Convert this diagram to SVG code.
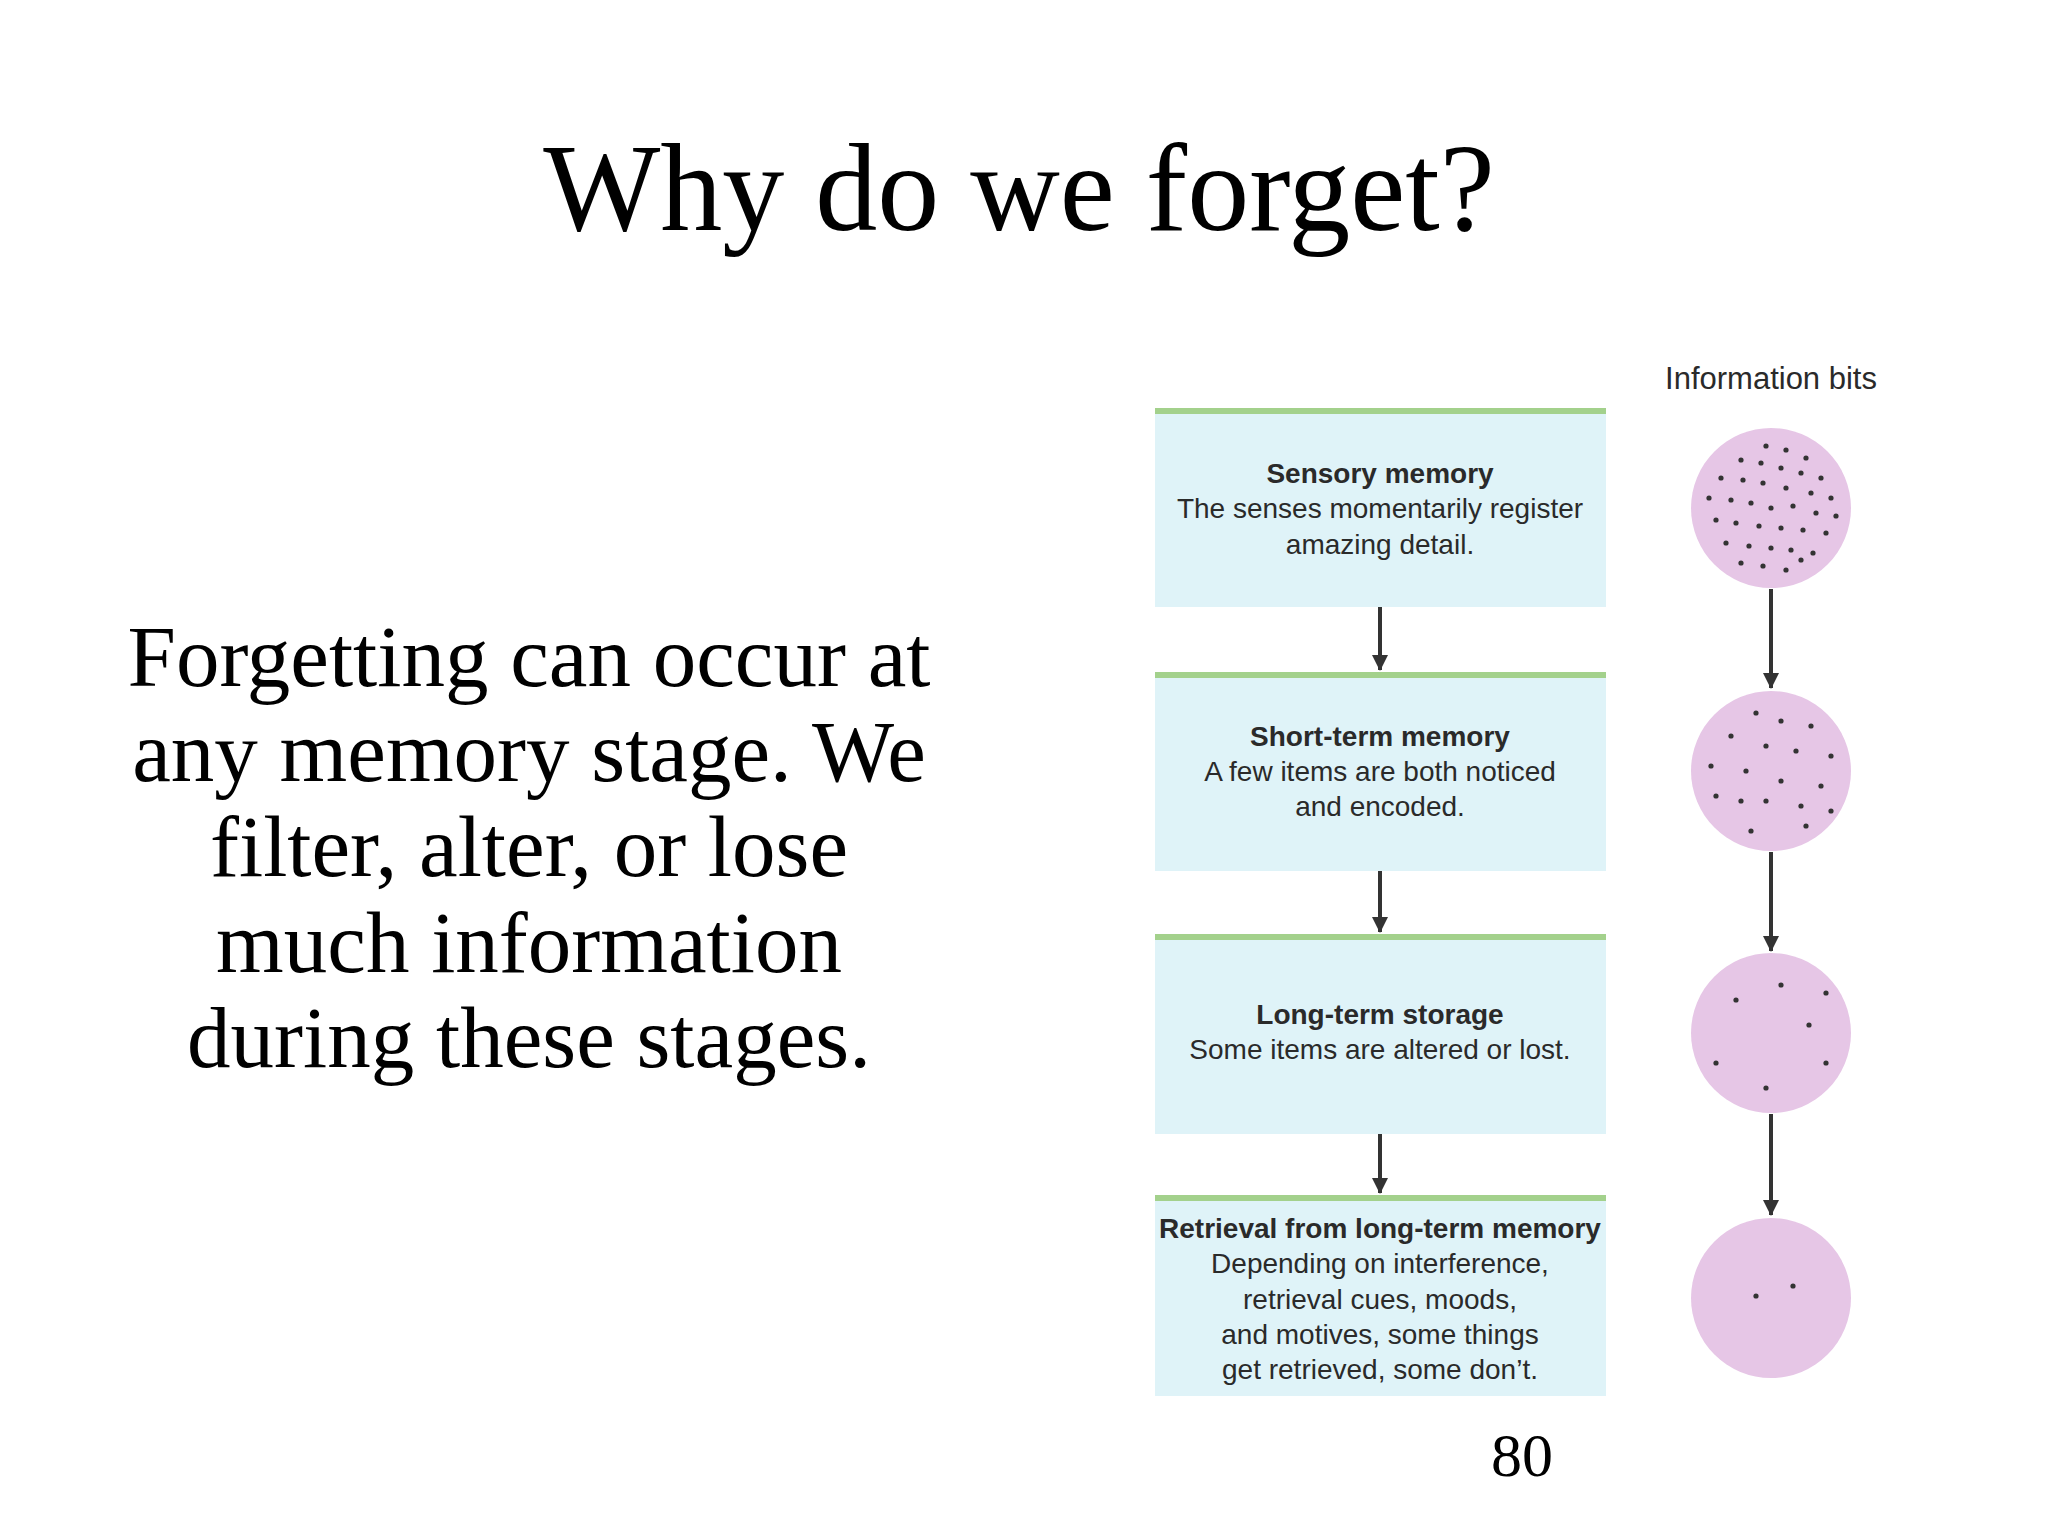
<svg xmlns="http://www.w3.org/2000/svg" width="2048" height="1536" viewBox="0 0 2048 1536">
<defs>
<style>
.ser{font-family:"Liberation Serif",serif;fill:#000}
.bx{fill:#dff3f8}
.gl{stroke:#a3d18c;stroke-width:6}
.t{font-family:"Liberation Sans",Arial,sans-serif;font-size:28px;fill:#2a2a2a;text-anchor:middle}
.b{font-weight:bold}
.c{fill:#e6c6e6}
.d{fill:#333}
.ar{stroke:#333;stroke-width:4;fill:none;marker-end:url(#ah)}
</style>
<marker id="ah" markerWidth="16" markerHeight="16" refX="15" refY="8" orient="auto" markerUnits="userSpaceOnUse" viewBox="0 0 16 16"><path d="M0,0 L16,8 L0,16 Z" fill="#333"/></marker>
</defs>
<rect width="2048" height="1536" fill="#fff"/>
<text class="ser" x="1019" y="230" font-size="124" text-anchor="middle">Why do we forget?</text>
<g id="paragraph" class="ser" font-size="87" text-anchor="middle">
<text x="529" y="686">Forgetting can occur at</text>
<text x="529" y="781">any memory stage. We</text>
<text x="529" y="876">filter, alter, or lose</text>
<text x="529" y="972">much information</text>
<text x="529" y="1067">during these stages.</text>
</g>
<text class="t" x="1771" y="389" style="font-size:31px;font-weight:500">Information bits</text>
<g id="box1"><rect class="bx" x="1155" y="409" width="451" height="198"/><line class="gl" x1="1155" y1="411" x2="1606" y2="411"/>
<text class="t b" x="1380" y="483">Sensory memory</text><text class="t" x="1380" y="518">The senses momentarily register</text><text class="t" x="1380" y="554">amazing detail.</text></g>
<g id="box2"><rect class="bx" x="1155" y="673" width="451" height="198"/><line class="gl" x1="1155" y1="675" x2="1606" y2="675"/>
<text class="t b" x="1380" y="746">Short-term memory</text><text class="t" x="1380" y="781">A few items are both noticed</text><text class="t" x="1380" y="816">and encoded.</text></g>
<g id="box3"><rect class="bx" x="1155" y="935" width="451" height="199"/><line class="gl" x1="1155" y1="937" x2="1606" y2="937"/>
<text class="t b" x="1380" y="1024">Long-term storage</text><text class="t" x="1380" y="1059">Some items are altered or lost.</text></g>
<g id="box4"><rect class="bx" x="1155" y="1196" width="451" height="200"/><line class="gl" x1="1155" y1="1198" x2="1606" y2="1198"/>
<text class="t b" x="1380" y="1238">Retrieval from long-term memory</text><text class="t" x="1380" y="1273">Depending on interference,</text><text class="t" x="1380" y="1309">retrieval cues, moods,</text><text class="t" x="1380" y="1344">and motives, some things</text><text class="t" x="1380" y="1379">get retrieved, some don’t.</text></g>
<g id="circle1" transform="translate(1771,508)"><circle class="c" r="80"/><g class="d">
<circle cx="-5" cy="-62" r="2.6"/><circle cx="15" cy="-58" r="2.6"/><circle cx="35" cy="-50" r="2.6"/><circle cx="-30" cy="-48" r="2.6"/><circle cx="-10" cy="-45" r="2.6"/><circle cx="10" cy="-40" r="2.6"/><circle cx="30" cy="-35" r="2.6"/><circle cx="50" cy="-30" r="2.6"/><circle cx="-50" cy="-30" r="2.6"/><circle cx="-28" cy="-28" r="2.6"/><circle cx="-8" cy="-25" r="2.6"/><circle cx="15" cy="-20" r="2.6"/><circle cx="40" cy="-15" r="2.6"/><circle cx="60" cy="-10" r="2.6"/><circle cx="-62" cy="-10" r="2.6"/><circle cx="-40" cy="-8" r="2.6"/><circle cx="-20" cy="-5" r="2.6"/><circle cx="0" cy="0" r="2.6"/><circle cx="22" cy="-2" r="2.6"/><circle cx="45" cy="5" r="2.6"/><circle cx="65" cy="8" r="2.6"/><circle cx="-55" cy="12" r="2.6"/><circle cx="-35" cy="15" r="2.6"/><circle cx="-12" cy="18" r="2.6"/><circle cx="10" cy="20" r="2.6"/><circle cx="32" cy="22" r="2.6"/><circle cx="55" cy="25" r="2.6"/><circle cx="-45" cy="35" r="2.6"/><circle cx="-22" cy="38" r="2.6"/><circle cx="0" cy="40" r="2.6"/><circle cx="20" cy="42" r="2.6"/><circle cx="42" cy="45" r="2.6"/><circle cx="-30" cy="55" r="2.6"/><circle cx="-8" cy="58" r="2.6"/><circle cx="15" cy="62" r="2.6"/><circle cx="30" cy="52" r="2.6"/></g></g>
<g id="circle2" transform="translate(1771,771)"><circle class="c" r="80"/><g class="d">
<circle cx="-15" cy="-58" r="2.6"/><circle cx="10" cy="-50" r="2.6"/><circle cx="40" cy="-45" r="2.6"/><circle cx="-40" cy="-35" r="2.6"/><circle cx="-5" cy="-25" r="2.6"/><circle cx="25" cy="-20" r="2.6"/><circle cx="60" cy="-15" r="2.6"/><circle cx="-60" cy="-5" r="2.6"/><circle cx="-25" cy="0" r="2.6"/><circle cx="10" cy="10" r="2.6"/><circle cx="50" cy="15" r="2.6"/><circle cx="-55" cy="25" r="2.6"/><circle cx="-30" cy="30" r="2.6"/><circle cx="-5" cy="30" r="2.6"/><circle cx="30" cy="35" r="2.6"/><circle cx="60" cy="40" r="2.6"/><circle cx="35" cy="55" r="2.6"/><circle cx="-20" cy="60" r="2.6"/></g></g>
<g id="circle3" transform="translate(1771,1033)"><circle class="c" r="80"/><g class="d">
<circle cx="10" cy="-48" r="2.6"/><circle cx="-35" cy="-33" r="2.6"/><circle cx="55" cy="-40" r="2.6"/><circle cx="38" cy="-8" r="2.6"/><circle cx="-55" cy="30" r="2.6"/><circle cx="55" cy="30" r="2.6"/><circle cx="-5" cy="55" r="2.6"/></g></g>
<g id="circle4" transform="translate(1771,1298)"><circle class="c" r="80"/><g class="d">
<circle cx="-15" cy="-2" r="2.6"/><circle cx="22" cy="-12" r="2.6"/></g></g>
<g id="connectors">
<line class="ar" x1="1380" y1="607" x2="1380" y2="670"/>
<line class="ar" x1="1380" y1="871" x2="1380" y2="932"/>
<line class="ar" x1="1380" y1="1134" x2="1380" y2="1193"/>
<line class="ar" x1="1771" y1="589" x2="1771" y2="688"/>
<line class="ar" x1="1771" y1="852" x2="1771" y2="951"/>
<line class="ar" x1="1771" y1="1114" x2="1771" y2="1215"/>
</g>
<text class="ser" x="1522" y="1476" font-size="62" text-anchor="middle">80</text>
</svg>
